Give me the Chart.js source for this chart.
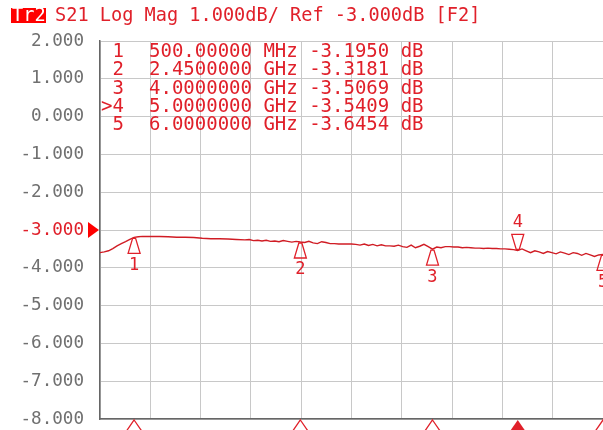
<!DOCTYPE html>
<html>
<head>
<meta charset="utf-8">
<script src="https://cdn.jsdelivr.net/npm/chart.js@4"></script>
<style>
  html, body { margin: 0; padding: 0; background: #fff; }
  canvas { display: block; }
</style>
</head>
<body>
<canvas id="graph" width="603" height="430"></canvas>
<script>
// S21 trace (GHz / dB)
var freqGHz = [
  0.10, 0.15, 0.20, 0.25, 0.30, 0.35, 0.40, 0.45, 0.50, 0.55,
  0.60, 0.70, 0.80, 0.90, 1.00, 1.10, 1.20, 1.30, 1.40, 1.50,
  1.60, 1.70, 1.80, 1.85, 1.90, 1.95, 2.00, 2.05, 2.10, 2.15,
  2.20, 2.25, 2.30, 2.35, 2.40, 2.45, 2.50, 2.55, 2.60, 2.65,
  2.70, 2.75, 2.80, 2.85, 2.90, 2.95, 3.00, 3.05, 3.10, 3.15,
  3.20, 3.25, 3.30, 3.35, 3.40, 3.45, 3.50, 3.55, 3.60, 3.65,
  3.70, 3.75, 3.80, 3.85, 3.90, 3.95, 4.00, 4.05, 4.10, 4.15,
  4.20, 4.25, 4.30, 4.35, 4.40, 4.45, 4.50, 4.55, 4.60, 4.65,
  4.70, 4.75, 4.80, 4.85, 4.90, 4.95, 5.00, 5.05, 5.10, 5.15,
  5.20, 5.25, 5.30, 5.35, 5.40, 5.45, 5.50, 5.55, 5.60, 5.65,
  5.70, 5.75, 5.80, 5.85, 5.90, 5.95, 6.00
];
var s21Db = [
  -3.60, -3.58, -3.55, -3.49, -3.42, -3.36, -3.31, -3.25, -3.195, -3.18,
  -3.17, -3.17, -3.17, -3.18, -3.19, -3.19, -3.20, -3.22, -3.23, -3.23,
  -3.24, -3.25, -3.26, -3.25, -3.28, -3.27, -3.29, -3.27, -3.30, -3.29,
  -3.31, -3.28, -3.30, -3.32, -3.30, -3.318, -3.33, -3.30, -3.34, -3.36,
  -3.31, -3.33, -3.36, -3.36, -3.37, -3.37, -3.37, -3.37, -3.38, -3.40,
  -3.37, -3.41, -3.38, -3.42, -3.39, -3.42, -3.42, -3.43, -3.40, -3.44,
  -3.46, -3.40, -3.47, -3.43, -3.38, -3.44, -3.507, -3.45, -3.47, -3.44,
  -3.44, -3.45, -3.45, -3.47, -3.46, -3.47, -3.48, -3.48, -3.49, -3.48,
  -3.49, -3.49, -3.50, -3.50, -3.51, -3.52, -3.541, -3.50, -3.55, -3.60,
  -3.55, -3.58, -3.62, -3.57, -3.60, -3.63, -3.58, -3.61, -3.65, -3.60,
  -3.62, -3.67, -3.62, -3.66, -3.70, -3.66, -3.645
];

// markers
var markerNo = ["1", "2", "3", "4", "5"];
var markerGHz = [0.5, 2.45, 4.0, 5.0, 6.0];
var markerFreqText = ["500.00000 MHz", "2.4500000 GHz", "4.0000000 GHz", "5.0000000 GHz", "6.0000000 GHz"];
var markerDb = [-3.1950, -3.3181, -3.5069, -3.5409, -3.6454];
var activeMarker = 3;

// sweep / scale settings
var startGHz = 0.1;
var stopGHz = 6.0;
var refDb = -3;
var dbPerDiv = 1;
var yTop = 2;
var yBottom = -8;

var RED = "#e0202a";
var TRACE = "#d01c24";
var MONO = "'DejaVu Sans Mono', monospace";

var points = freqGHz.map(function (f, i) {
  return { x: f, y: s21Db[i] };
});

// screen overlay: header, marker table, marker flags
var vnaOverlay = {
  id: "vnaOverlay",
  afterDraw: function (chart) {
    var ctx = chart.ctx;
    var xs = chart.scales.x;
    var ys = chart.scales.y;
    var area = chart.chartArea;
    ctx.save();

    // header
    ctx.font = "18.6px " + MONO;
    ctx.textBaseline = "middle";
    ctx.textAlign = "left";
    ctx.fillStyle = "#ff0000";
    ctx.fillRect(11, 8, 35, 15);
    ctx.fillStyle = "#fff";
    ctx.fillText("Tr2", 12, 16);
    ctx.fillStyle = RED;
    ctx.fillText("S21 Log Mag " + dbPerDiv.toFixed(3) + "dB/ Ref " + refDb.toFixed(3) + "dB [F2]", 55, 16);

    // marker table
    ctx.font = "19px " + MONO;
    for (var i = 0; i < markerNo.length; i++) {
      var ty = 52 + i * 18.3;
      ctx.textAlign = "right";
      ctx.fillText((i === activeMarker ? ">" : "") + markerNo[i], 124, ty);
      ctx.textAlign = "left";
      ctx.fillText(markerFreqText[i] + " " + markerDb[i].toFixed(4) + " dB", 149, ty);
    }

    // reference level arrow
    var ry = ys.getPixelForValue(refDb);
    ctx.fillStyle = "#ff0000";
    ctx.beginPath();
    ctx.moveTo(88, ry - 8);
    ctx.lineTo(99, ry);
    ctx.lineTo(88, ry + 8);
    ctx.closePath();
    ctx.fill();

    // marker flags on the trace
    ctx.strokeStyle = RED;
    ctx.lineWidth = 1.3;
    ctx.font = "17px " + MONO;
    ctx.textAlign = "center";
    ctx.fillStyle = RED;
    for (var j = 0; j < markerNo.length; j++) {
      var mx = xs.getPixelForValue(markerGHz[j]);
      var my = ys.getPixelForValue(markerDb[j]);
      var dir = j === activeMarker ? -1 : 1;
      ctx.beginPath();
      ctx.moveTo(mx - 1.5, my + 1 * dir);
      ctx.lineTo(mx + 1.5, my + 1 * dir);
      ctx.lineTo(mx + 6, my + 16 * dir);
      ctx.lineTo(mx - 6, my + 16 * dir);
      ctx.closePath();
      ctx.stroke();
      ctx.fillText(markerNo[j], mx, my + 28 * dir);

      // stimulus flags under the grid
      var by = area.bottom + 1;
      ctx.beginPath();
      ctx.moveTo(mx, by);
      ctx.lineTo(mx + 9, by + 13);
      ctx.lineTo(mx - 9, by + 13);
      ctx.closePath();
      if (j === activeMarker) {
        ctx.fill();
      } else {
        ctx.fillStyle = "#fff";
        ctx.fill();
        ctx.fillStyle = RED;
        ctx.stroke();
      }
    }
    ctx.restore();
  },
};

var graph = new Chart(document.getElementById("graph"), {
  type: "line",
  data: {
    datasets: [
      {
        label: "S21",
        data: points,
        borderColor: TRACE,
        borderWidth: 1.4,
        pointRadius: 0,
        tension: 0,
      },
    ],
  },
  options: {
    responsive: false,
    animation: false,
    devicePixelRatio: 1,
    layout: {
      padding: { top: 41, left: 0, right: 0, bottom: 0 },
    },
    plugins: {
      legend: { display: false },
      tooltip: { enabled: false },
    },
    scales: {
      x: {
        type: "linear",
        min: startGHz,
        max: stopGHz,
        afterBuildTicks: function (axis) {
          var ticks = [];
          for (var i = 0; i <= 10; i++) {
            ticks.push({ value: startGHz + (i * (stopGHz - startGHz)) / 10 });
          }
          axis.ticks = ticks;
        },
        afterFit: function (axis) {
          axis.height = 11;
          axis.paddingLeft = 0;
          axis.paddingRight = 0;
        },
        ticks: { display: false },
        grid: { color: "#c8c8c8", drawTicks: false },
        border: { color: "#666", width: 1.5 },
      },
      y: {
        min: yBottom,
        max: yTop,
        afterFit: function (axis) {
          axis.width = 100;
          axis.paddingTop = 0;
          axis.paddingBottom = 0;
        },
        ticks: {
          stepSize: dbPerDiv,
          padding: 16,
          font: { family: MONO, size: 17.6 },
          color: function (c) {
            return c.tick && c.tick.value === refDb ? RED : "#707070";
          },
          callback: function (v) {
            return v.toFixed(3);
          },
        },
        grid: { color: "#c8c8c8", drawTicks: false },
        border: { color: "#666", width: 1.5 },
      },
    },
  },
  plugins: [vnaOverlay],
});
</script>
</body>
</html>
